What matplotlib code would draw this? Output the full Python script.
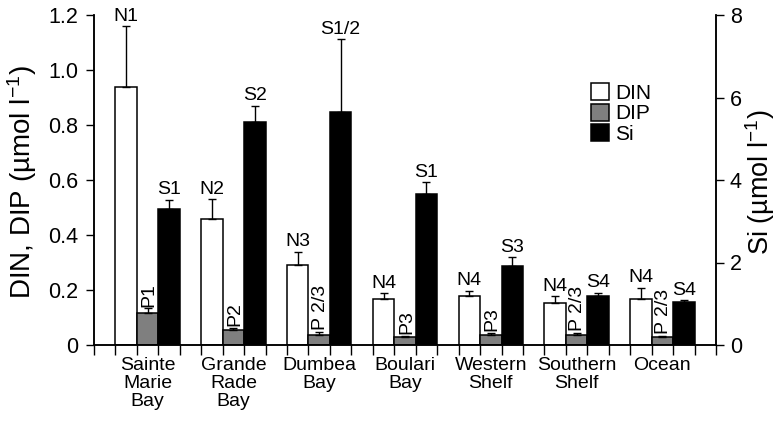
import matplotlib
matplotlib.use("Agg")
import matplotlib.pyplot as plt
from matplotlib.patches import Patch
import numpy as np

plt.rcParams['font.family'] = ['Liberation Sans', 'DejaVu Sans']
plt.rcParams['mathtext.fontset'] = 'custom'
plt.rcParams['mathtext.rm'] = 'Liberation Sans'
plt.rcParams['mathtext.default'] = 'regular'

# Sites and mean nutrient concentrations (with upper error)
sites = ["Sainte\nMarie\nBay", "Grande\nRade\nBay", "Dumbea\nBay", "Boulari\nBay",
         "Western\nShelf", "Southern\nShelf", "Ocean"]
din = [0.94, 0.46, 0.29, 0.167, 0.178, 0.152, 0.167]
din_err = [0.22, 0.07, 0.05, 0.021, 0.02, 0.026, 0.041]
dip = [0.115, 0.055, 0.036, 0.028, 0.036, 0.036, 0.028]
dip_err = [0.018, 0.008, 0.012, 0.006, 0.009, 0.009, 0.006]
si = [3.30, 5.40, 5.65, 3.66, 1.92, 1.19, 1.035]
si_err = [0.22, 0.40, 1.77, 0.28, 0.21, 0.08, 0.055]

# Group letters from the statistical comparison
din_groups = ["N1", "N2", "N3", "N4", "N4", "N4", "N4"]
dip_groups = ["P1", "P2", "P 2/3", "P3", "P3", "P 2/3", "P 2/3"]
si_groups = ["S1", "S2", "S1/2", "S1", "S3", "S4", "S4"]

left_ticks = [0, 0.2, 0.4, 0.6, 0.8, 1.0, 1.2]
left_ticklabels = ["0", "0.2", "0.4", "0.6", "0.8", "1.0", "1.2"]
right_ticks = [0, 2, 4, 6, 8]

W, H = 777, 422
fig = plt.figure(figsize=(W / 100, H / 100), dpi=100)
ax = fig.add_axes([94 / W, 1 - 345 / H, (716 - 94) / W, (345 - 15) / H])
ax2 = ax.twinx()

n = len(sites)
group_start = np.arange(n) * 4 + 1
x_din = group_start + 0.5
x_dip = group_start + 1.5
x_si = group_start + 2.5

ekw = dict(elinewidth=1.0, capthick=1.0, ecolor='black')
bkw = dict(width=1.0, edgecolor='black', linewidth=1.1)
zero = [0] * n

ax.bar(x_din, din, color='white', yerr=[zero, din_err], capsize=3, error_kw=ekw, **bkw)
ax.bar(x_dip, dip, color='#7f7f7f', yerr=[zero, dip_err], capsize=3, error_kw=ekw, **bkw)
ax2.bar(x_si, si, color='black', yerr=[zero, si_err], capsize=3, error_kw=ekw, **bkw)

fs = 14
for x, v, e, t in zip(x_din, din, din_err, din_groups):
    ax.annotate(t, (x, v + e), xytext=(0, 1), textcoords='offset points',
                ha='center', va='bottom', fontsize=fs)
for x, v, e, t in zip(x_dip, dip, dip_err, dip_groups):
    ax.annotate(t, (x, v + e), xytext=(1, 1), textcoords='offset points',
                ha='center', va='bottom', rotation=90, fontsize=fs)
for x, v, e, t in zip(x_si, si, si_err, si_groups):
    ax2.annotate(t, (x, v + e), xytext=(0, 1), textcoords='offset points',
                 ha='center', va='bottom', fontsize=fs)

ax.set_xlim(0, 4 * n + 1)
ax.set_ylim(0, 1.2)
ax2.set_ylim(0, 8)

# Tick marks at every bar boundary, labels centred on each site group
ax.set_xticks(np.arange(0, 4 * n + 2))
ax.set_xticklabels([])
ax.set_xticks(x_dip, minor=True)
ax.set_xticklabels(sites, minor=True, fontsize=fs, linespacing=1.08)
ax.tick_params(axis='x', which='major', direction='out', length=7, width=1)
ax.tick_params(axis='x', which='minor', length=0, pad=8.5)

ax.set_yticks(left_ticks)
ax.set_yticklabels(left_ticklabels, fontsize=15.5)
ax.tick_params(axis='y', direction='out', length=6, width=1, pad=5.5)
ax2.set_yticks(right_ticks)
ax2.set_yticklabels([str(t) for t in right_ticks], fontsize=15.5)
ax2.tick_params(axis='y', direction='out', length=5.5, width=1, pad=4.5)

for a in (ax, ax2):
    a.spines['top'].set_visible(False)
    for s in ('left', 'right', 'bottom'):
        a.spines[s].set_linewidth(1.1)
ax.patch.set_visible(False)

fig.text(22 / W, 1 - 182 / H, r"DIN, DIP (µmol l$^{-1}$)", rotation=90,
         ha='center', va='center', fontsize=20)
fig.text(760 / W, 1 - 182 / H, r"Si (µmol l$^{-1}$)", rotation=90,
         ha='center', va='center', fontsize=19.5)

handles = [Patch(facecolor='white', edgecolor='black', linewidth=1.1),
           Patch(facecolor='#7f7f7f', edgecolor='black', linewidth=1.1),
           Patch(facecolor='black', edgecolor='black', linewidth=1.1)]
fig.legend(handles, ["DIN", "DIP", "Si"], loc='upper left',
           bbox_to_anchor=(591 / W, 1 - 83 / H), frameon=False, fontsize=15,
           handlelength=0.87, handleheight=0.87, handletextpad=0.3,
           labelspacing=0.05, borderpad=0, borderaxespad=0)

fig.savefig("out.png", dpi=100)
